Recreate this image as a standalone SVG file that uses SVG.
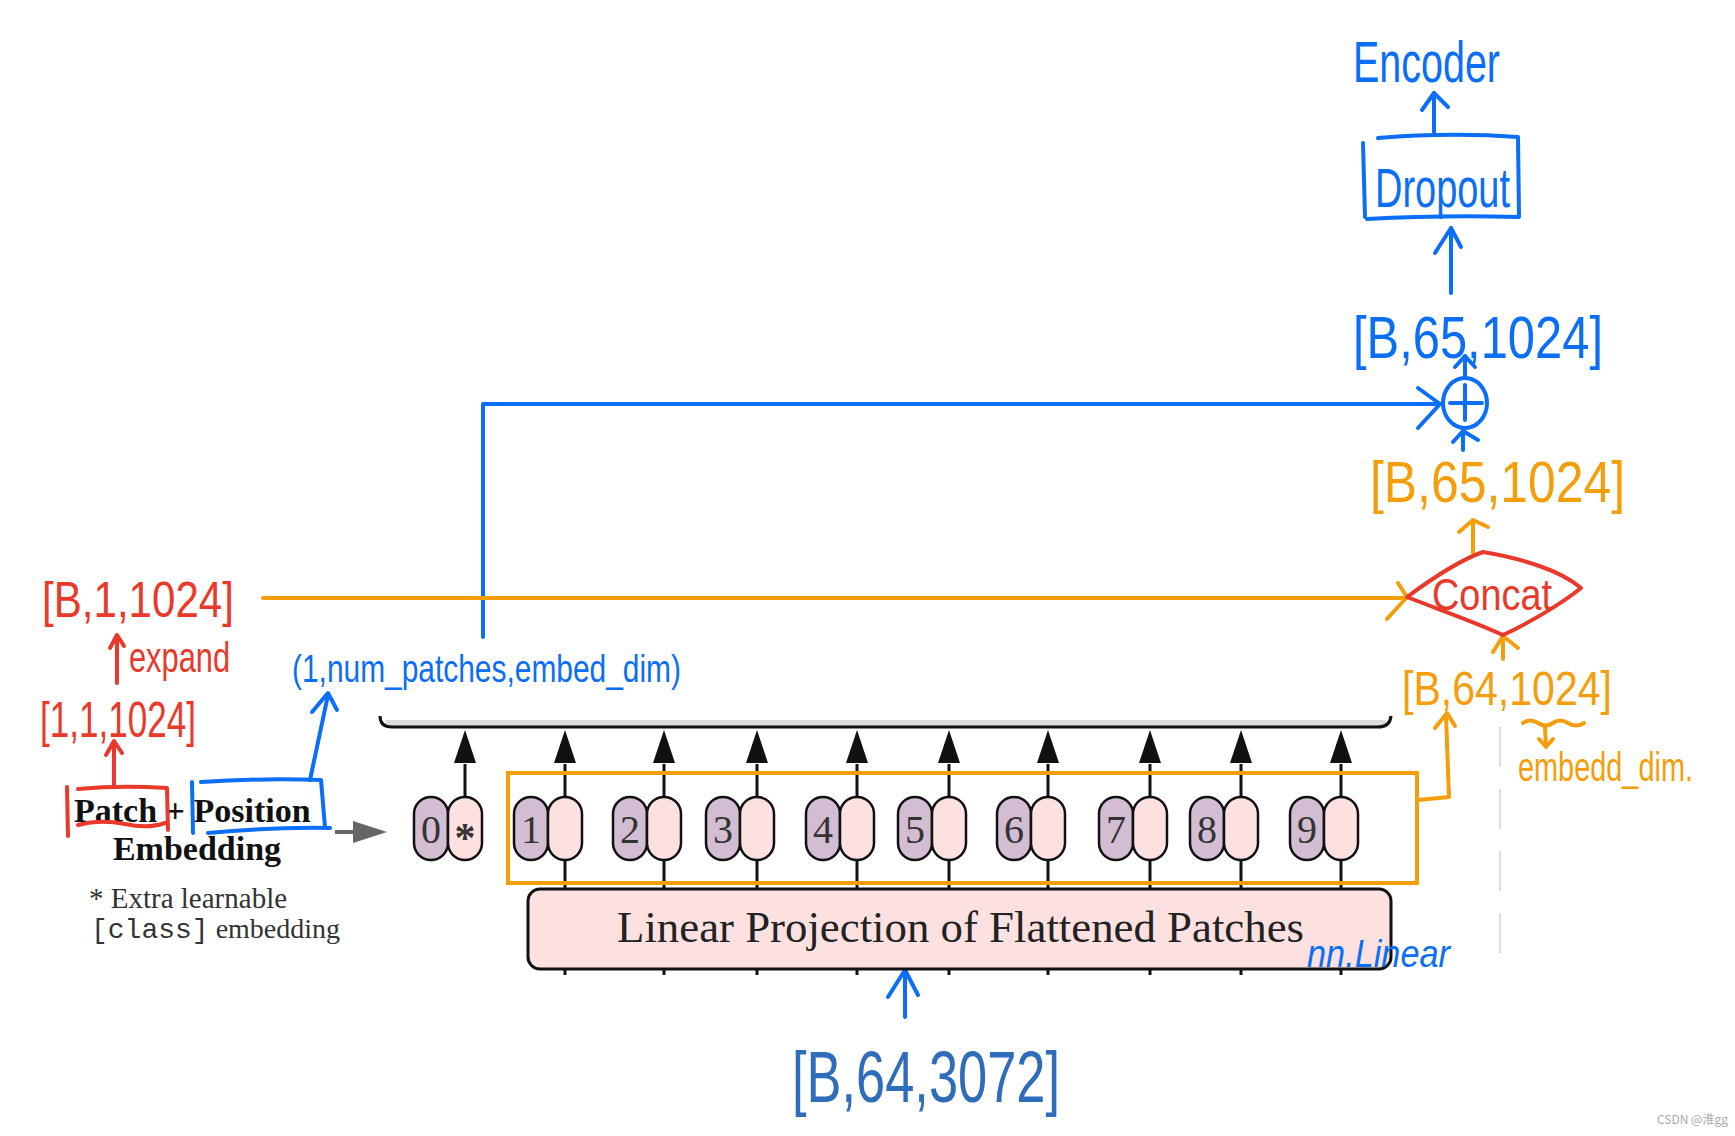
<svg xmlns="http://www.w3.org/2000/svg" width="1735" height="1136" viewBox="0 0 1735 1136">
<style>
.hand{font-family:"Liberation Sans","DejaVu Sans",sans-serif;}
.blue{fill:#0b6ef6;}
.orange{fill:#f59e0b;}
.red{fill:#e8392a;}
.dblue{fill:#2f6cba;}
.sb{stroke:#0b6ef6;stroke-width:4;fill:none;stroke-linecap:round;stroke-linejoin:round;}
.so{stroke:#f59e0b;stroke-width:4;fill:none;stroke-linecap:round;stroke-linejoin:round;}
.sr{stroke:#e8392a;stroke-width:4;fill:none;stroke-linecap:round;stroke-linejoin:round;}
.serif{font-family:"Liberation Serif","Times New Roman",serif;fill:#222;}
.pp{fill:#d3bdd3;stroke:#111;stroke-width:2.5;}
.pk{fill:#fde1e1;stroke:#111;stroke-width:2.5;}
.dg{font-family:"Liberation Serif",serif;font-size:40px;fill:#333;text-anchor:middle;}
.bl{stroke:#111;stroke-width:3;fill:none;}
</style>
<rect width="1735" height="1136" fill="#fff"/>

<!-- encoder top bar -->
<g id="encoder-bar">
<path d="M386,723 L1386,723" stroke="#dcdcdc" stroke-width="6"/>
<path d="M380,716 Q380,727 392,727 L1378,727 Q1390,727 1391,716" stroke="#111" stroke-width="3" fill="none"/>
</g>

<!-- connectors -->
<g id="connectors">
<g class="bl">
<path d="M465,797 L465,764"/><path d="M565,797 L565,764"/><path d="M664,797 L664,764"/><path d="M757,797 L757,764"/><path d="M857,797 L857,764"/><path d="M949,797 L949,764"/><path d="M1048,797 L1048,764"/><path d="M1150,797 L1150,764"/><path d="M1241,797 L1241,764"/><path d="M1341,797 L1341,764"/>
<path d="M565,860 L565,889"/><path d="M664,860 L664,889"/><path d="M757,860 L757,889"/><path d="M857,860 L857,889"/><path d="M949,860 L949,889"/><path d="M1048,860 L1048,889"/><path d="M1150,860 L1150,889"/><path d="M1241,860 L1241,889"/><path d="M1341,860 L1341,889"/>
<path d="M565,968 L565,975"/><path d="M664,968 L664,975"/><path d="M757,968 L757,975"/><path d="M857,968 L857,975"/><path d="M949,968 L949,975"/><path d="M1048,968 L1048,975"/><path d="M1150,968 L1150,975"/><path d="M1241,968 L1241,975"/><path d="M1341,968 L1341,975"/>
</g>
<g fill="#111">
<path d="M454,763 L465,730 L476,763 Z"/><path d="M554,763 L565,730 L576,763 Z"/><path d="M653,763 L664,730 L675,763 Z"/><path d="M746,763 L757,730 L768,763 Z"/><path d="M846,763 L857,730 L868,763 Z"/><path d="M938,763 L949,730 L960,763 Z"/><path d="M1037,763 L1048,730 L1059,763 Z"/><path d="M1139,763 L1150,730 L1161,763 Z"/><path d="M1230,763 L1241,730 L1252,763 Z"/><path d="M1330,763 L1341,730 L1352,763 Z"/>
</g>
<path d="M335,832 L356,832" stroke="#666" stroke-width="4"/>
<path d="M353,821 L387,832 L353,843 Z" fill="#666"/>
<path class="sb" d="M483,637 L483,404 L1440,404"/>
<path class="sb" d="M1418,388 L1440,404 L1418,428"/>
<path class="so" d="M263,598 L1407,598"/>
<path class="so" d="M1398,583 L1407,597 L1387,619"/>
<path class="so" d="M1418,800 L1449,797 L1446,715"/>
<path class="so" d="M1435,728 L1447,713 L1455,726"/>
<path class="so" d="M1503,659 L1503,637"/>
<path class="so" d="M1493,652 L1503,636 L1518,648"/>
<path class="so" d="M1473,553 L1473,521"/>
<path class="so" d="M1459,532 L1473,520 L1488,527"/>
<path class="sb" d="M1463,450 L1463,431"/>
<path class="sb" d="M1453,442 L1463,431 L1478,440"/>
<path class="sb" d="M1465,377 L1465,356"/>
<path class="sb" d="M1455,367 L1465,356 L1475,367"/>
<path class="sb" d="M1451,293 L1451,228"/>
<path class="sb" d="M1435,253 L1451,228 L1461,247"/>
<path class="sb" d="M1434,135 L1434,93"/>
<path class="sb" d="M1422,110 L1434,93 L1448,107"/>
<path class="sb" d="M905,1017 L905,971"/>
<path class="sb" d="M888,997 L905,970 L918,995"/>
<path class="sr" d="M114,786 L114,742"/>
<path class="sr" d="M106,755 L114,741 L122,753"/>
<path class="sr" d="M117,683 L117,636"/>
<path class="sr" d="M110,648 L117,635 L124,646"/>
<path class="sb" d="M310,780 L328,695"/>
<path class="sb" d="M312,712 L328,693 L337,710"/>
<path class="so" d="M1523,723 q7,-5 15,0 t15,0 t15,0 t16,0" stroke-width="3"/>
<path class="so" d="M1545,727 L1546,746" stroke-width="3"/>
<path class="so" d="M1539,739 L1546,747 L1553,739" stroke-width="3"/>
<path d="M1500,727 L1500,963" stroke="#dddddd" stroke-width="2" stroke-dasharray="40 22"/>
</g>

<!-- tokens -->
<g id="token-0"><rect class="pp" x="414" y="797" width="34" height="63" rx="17"/><rect class="pk" x="448" y="797" width="34" height="63" rx="17"/><text class="dg" x="431" y="843">0</text><text class="dg" x="465" y="852" style="font-size:42px;font-weight:bold">*</text></g>
<g id="token-1"><rect class="pp" x="514" y="797" width="34" height="63" rx="17"/><rect class="pk" x="548" y="797" width="34" height="63" rx="17"/><text class="dg" x="531" y="843">1</text></g>
<g id="token-2"><rect class="pp" x="613" y="797" width="34" height="63" rx="17"/><rect class="pk" x="647" y="797" width="34" height="63" rx="17"/><text class="dg" x="630" y="843">2</text></g>
<g id="token-3"><rect class="pp" x="706" y="797" width="34" height="63" rx="17"/><rect class="pk" x="740" y="797" width="34" height="63" rx="17"/><text class="dg" x="723" y="843">3</text></g>
<g id="token-4"><rect class="pp" x="806" y="797" width="34" height="63" rx="17"/><rect class="pk" x="840" y="797" width="34" height="63" rx="17"/><text class="dg" x="823" y="843">4</text></g>
<g id="token-5"><rect class="pp" x="898" y="797" width="34" height="63" rx="17"/><rect class="pk" x="932" y="797" width="34" height="63" rx="17"/><text class="dg" x="915" y="843">5</text></g>
<g id="token-6"><rect class="pp" x="997" y="797" width="34" height="63" rx="17"/><rect class="pk" x="1031" y="797" width="34" height="63" rx="17"/><text class="dg" x="1014" y="843">6</text></g>
<g id="token-7"><rect class="pp" x="1099" y="797" width="34" height="63" rx="17"/><rect class="pk" x="1133" y="797" width="34" height="63" rx="17"/><text class="dg" x="1116" y="843">7</text></g>
<g id="token-8"><rect class="pp" x="1190" y="797" width="34" height="63" rx="17"/><rect class="pk" x="1224" y="797" width="34" height="63" rx="17"/><text class="dg" x="1207" y="843">8</text></g>
<g id="token-9"><rect class="pp" x="1290" y="797" width="34" height="63" rx="17"/><rect class="pk" x="1324" y="797" width="34" height="63" rx="17"/><text class="dg" x="1307" y="843">9</text></g>

<g id="patch-tokens-box"><rect x="508" y="773" width="909" height="110" fill="none" stroke="#f59e0b" stroke-width="4"/></g>

<g id="linear-projection">
<rect x="528" y="889" width="863" height="80" rx="12" fill="#fde1e1" stroke="#111" stroke-width="3"/>
<text class="serif" x="617" y="942" font-size="44" textLength="687" lengthAdjust="spacingAndGlyphs">Linear Projection of Flattened Patches</text>
</g>
<g id="nn-linear"><text class="hand blue" x="1307" y="967" font-size="38" font-style="italic" textLength="143" lengthAdjust="spacingAndGlyphs">nn.Linear</text></g>
<g id="input-shape"><text class="hand dblue" x="792" y="1102" font-size="72" textLength="268" lengthAdjust="spacingAndGlyphs">[B,64,3072]</text></g>

<g id="embedding-label">
<text class="serif" x="74" y="822" font-size="34" font-weight="bold" style="fill:#111">Patch + Position</text>
<text class="serif" x="197" y="860" font-size="34" font-weight="bold" text-anchor="middle" style="fill:#111">Embedding</text>
<path class="sr" d="M67,787 L68,836"/>
<path class="sr" d="M78,789 Q120,785 167,788 L168,830"/>
<path class="sr" d="M78,825 Q100,819 125,824 Q148,829 165,823"/>
<path class="sb" d="M192,782 L193,833"/>
<path class="sb" d="M201,782 Q260,778 321,780 L325,827"/>
<path class="sb" d="M208,833 Q270,827 330,828"/>
</g>
<g id="class-note">
<text class="serif" x="89" y="908" font-size="29" style="fill:#333">* Extra learnable</text>
<text x="91" y="938" font-size="28" style="fill:#333"><tspan font-family="Liberation Mono,Courier New,monospace">[class]</tspan><tspan font-family="Liberation Serif,Times New Roman,serif"> embedding</tspan></text>
</g>

<g id="cls-expanded"><text class="hand red" x="42" y="617" font-size="50" textLength="192" lengthAdjust="spacingAndGlyphs">[B,1,1024]</text></g>
<g id="expand-label"><text class="hand red" x="129" y="672" font-size="42" textLength="101" lengthAdjust="spacingAndGlyphs">expand</text></g>
<g id="cls-token"><text class="hand red" x="40" y="737" font-size="50" textLength="156" lengthAdjust="spacingAndGlyphs">[1,1,1024]</text></g>
<g id="pos-shape"><text class="hand blue" x="292" y="682" font-size="38" textLength="389" lengthAdjust="spacingAndGlyphs">(1,num_patches,embed_dim)</text></g>

<g id="patch-shape"><text class="hand orange" x="1402" y="705" font-size="48" textLength="210" lengthAdjust="spacingAndGlyphs">[B,64,1024]</text></g>
<g id="embedd-dim"><text class="hand orange" x="1518" y="781" font-size="40" textLength="175" lengthAdjust="spacingAndGlyphs">embedd_dim.</text></g>
<g id="concat">
<path class="sr" d="M1407,597 C1430,580 1460,560 1483,552 C1520,558 1560,570 1581,588 C1560,605 1525,625 1503,635 C1470,620 1440,610 1407,597 Z"/>
<text class="hand red" x="1432" y="610" font-size="44" textLength="120" lengthAdjust="spacingAndGlyphs">Concat</text>
</g>
<g id="concat-shape"><text class="hand orange" x="1370" y="502" font-size="58" textLength="255" lengthAdjust="spacingAndGlyphs">[B,65,1024]</text></g>
<g id="add">
<ellipse cx="1465" cy="403" rx="22" ry="25" class="sb"/>
<path class="sb" d="M1450,403 L1482,403 M1465,385 L1465,420"/>
</g>
<g id="sum-shape"><text class="hand blue" x="1353" y="358" font-size="60" textLength="250" lengthAdjust="spacingAndGlyphs">[B,65,1024]</text></g>
<g id="dropout">
<path class="sb" d="M1363,143 L1365,217"/>
<path class="sb" d="M1378,138 Q1450,132 1518,137 L1519,217 Q1440,215 1367,219"/>
<text class="hand blue" x="1375" y="207" font-size="56" textLength="135" lengthAdjust="spacingAndGlyphs">Dropout</text>
</g>
<g id="encoder"><text class="hand blue" x="1353" y="82" font-size="58" textLength="147" lengthAdjust="spacingAndGlyphs">Encoder</text></g>

<text x="1657" y="1124" font-size="12" font-family="Noto Sans CJK SC,Noto Sans,sans-serif" fill="#aaaaaa">CSDN @淮gg</text>
</svg>
